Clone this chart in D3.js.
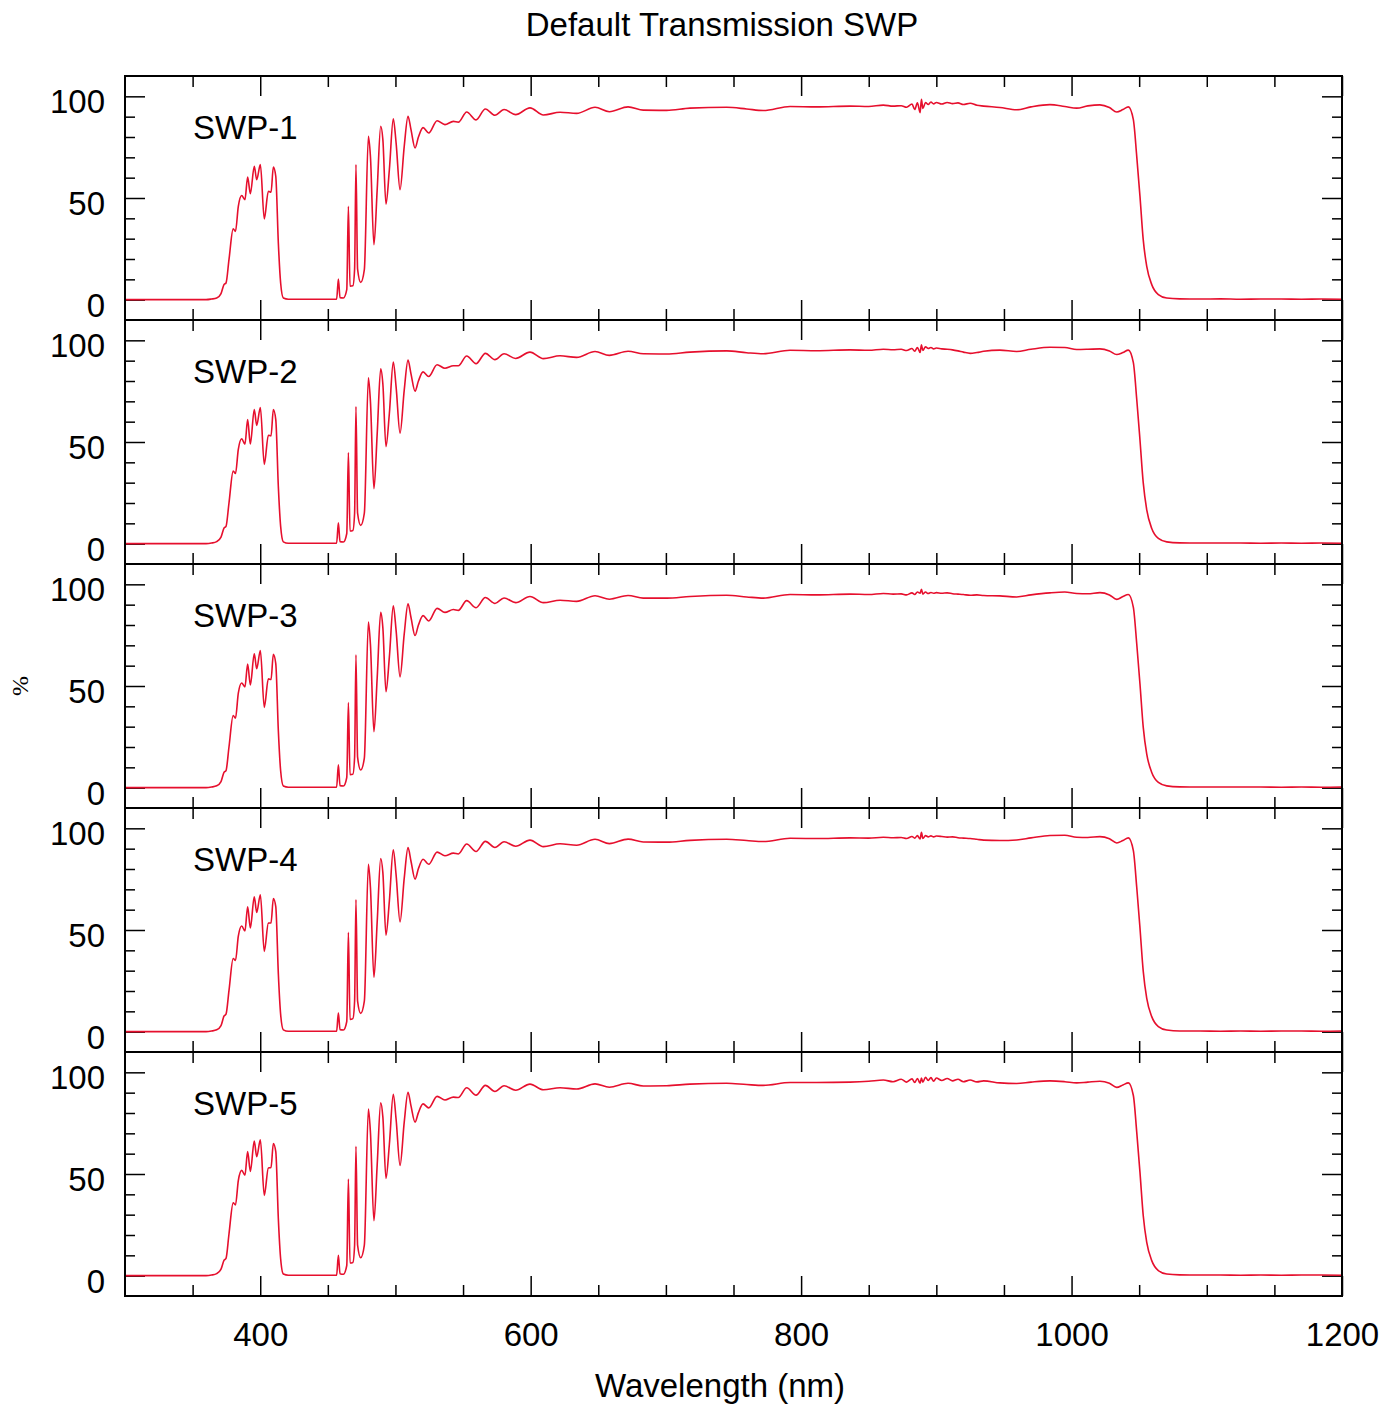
<!DOCTYPE html>
<html>
<head>
<meta charset="utf-8">
<script src="https://cdn.jsdelivr.net/npm/d3@7"></script>
<style>
  body { margin: 0; background: #fff; }
  text { font-family: "Liberation Sans", Arial, Helvetica, sans-serif; fill: #000; }
</style>
</head>
<body>
<div id="chart"></div>
<script>
// Data
var wavelength = [
  300, 360, 364, 367.8, 371, 373.2, 374.7, 376.9, 380, 381.7,
  383.8, 386.3, 388.7, 390.7, 392.7, 395.6, 397.4, 400.1, 403, 406,
  408, 409.7, 411.5, 413.4, 415.1, 417.1, 420.8, 456.5, 457.8, 459,
  461.5, 464, 465.2, 466.4, 468.5, 469.8, 470.8, 472, 474.3, 477,
  480, 481.5, 484.1, 486.5, 489.1, 490.7, 493, 495.5, 498.4, 500.5,
  503.4, 506.5, 509.3, 511.5, 514.5, 517, 520.4, 524.6, 530.8, 536.6,
  542.8, 546.5, 552.7, 559.6, 566.5, 573.6, 580.3, 588.9, 599.5, 609.4,
  621.7, 634, 647.6, 658.2, 672, 683.3, 700.6, 717.8, 745, 759.7,
  772, 791.8, 811.5, 836.2, 850, 860.8, 868, 874, 878, 882,
  884, 886, 888, 889, 890, 892, 894, 896, 898, 900,
  904, 908, 912, 916, 920, 925, 930, 935, 947, 959.4,
  970, 984, 995, 1003.8, 1012, 1021, 1028, 1033.4, 1038, 1042,
  1045.7, 1048.2, 1050.6, 1053, 1055.6, 1059.3, 1064.2, 1070.4, 1080, 1095,
  1110, 1125, 1140, 1155, 1170, 1185, 1200
];

var swp1 = [
  0, 0, 0.3, 0.8, 3, 7.4, 8.2, 19.7, 34.8, 33.6,
  45.9, 51.2, 49.2, 60.3, 52.1, 65.6, 59, 66.4, 39.7, 53.3,
  52.8, 65.2, 60.7, 27.9, 8.2, 0.8, 0.2, 0.2, 10.2, 1,
  0.8, 4.9, 45.9, 6.6, 6.8, 15, 66.4, 15, 8.5, 14.8,
  80.3, 70.5, 27, 54.1, 85.3, 78.7, 47, 63.9, 88.9, 77,
  54.1, 75.4, 90.2, 83.6, 74.6, 80, 84.6, 82, 88, 86.1,
  87.7, 87.3, 92.3, 88.4, 93.8, 90.7, 93.5, 91, 94.3, 90.8,
  92.2, 91.6, 94.6, 92.4, 94.8, 93.2, 93.1, 94.2, 94.6, 93.8,
  93, 95, 94.8, 95.2, 95, 95.7, 95.2, 95.4, 94.6, 96.2,
  93.5, 96.8, 92, 98.5, 94, 97, 96, 97.2, 96.3, 97,
  96.2, 97, 96.4, 96.8, 96, 96.6, 95.6, 95.2, 94.5, 93.4,
  94.8, 95.9, 95, 94.2, 95.3, 95.8, 94.5, 92.3, 93.5, 94.8,
  88.5, 70.5, 50.8, 29.5, 16.4, 7.4, 2.5, 0.8, 0.4, 0.3,
  0.4, 0.2, 0.3, 0.3, 0.2, 0.3, 0.2
];

var swp2 = [
  0, 0, 0.3, 1, 3.2, 7.6, 8.5, 20, 35.7, 34.5,
  46.4, 51.6, 48.9, 61, 49, 66, 58.2, 66.9, 39, 53.3,
  53, 66, 61, 28, 8.5, 0.9, 0.2, 0.2, 10.3, 1,
  0.8, 5, 44.8, 6.2, 6.5, 15, 67.4, 15, 9, 15,
  81.6, 70, 27, 54, 86, 78.5, 47.7, 64, 89.3, 77,
  54.3, 75.5, 90.3, 83.5, 75, 80, 84.5, 82.2, 88, 86.3,
  87.5, 87.5, 92.3, 88.5, 93.6, 90.5, 93.4, 91.1, 94.2, 91,
  92.4, 91.6, 94.5, 92.6, 94.6, 93.4, 93.3, 94.2, 94.8, 93.9,
  93.4, 95.1, 94.9, 95.3, 95.1, 95.6, 95.4, 95.6, 95, 96,
  94.6, 96.5, 94, 97.8, 95, 96.8, 96, 96.5, 95.8, 96.2,
  95.8, 95.6, 95.3, 94.8, 94.2, 93.6, 94, 94.6, 95.2, 94.5,
  95.6, 96.6, 96.5, 95.5, 95.6, 95.8, 94.8, 93, 94, 95.2,
  89, 71, 51, 30, 16.6, 7.5, 2.6, 0.9, 0.4, 0.3,
  0.3, 0.3, 0.2, 0.3, 0.2, 0.3, 0.2
];

var swp3 = [
  0, 0, 0.3, 0.9, 3, 7.5, 8.4, 20, 35.5, 34.2,
  46.5, 51.5, 49.5, 60.8, 50.5, 65.8, 58.5, 67.4, 39.5, 53.5,
  53.2, 65.6, 61, 28, 8.3, 0.8, 0.2, 0.2, 11.2, 1,
  0.8, 5, 41.8, 6.4, 6.6, 15, 65.4, 15, 8.7, 14.5,
  81.5, 70.5, 27.5, 54, 86.2, 78.6, 47.2, 64.2, 89.4, 77.2,
  54.5, 75.6, 90.4, 83.7, 74.8, 80, 84.6, 82, 88.2, 86.2,
  87.6, 87.2, 92, 88.5, 93.5, 90.6, 93.3, 91, 94, 91,
  92.2, 91.6, 94.4, 92.7, 94.5, 93.2, 93.2, 94, 94.6, 93.8,
  93.2, 95, 94.8, 95.2, 95, 95.5, 95.2, 95.3, 94.8, 95.8,
  95, 96.2, 95.6, 97.6, 95.2, 96.2, 95.5, 96, 95.6, 95.9,
  95.6, 95.8, 95.4, 95.2, 95, 94.6, 94.8, 94.5, 94.3, 93.8,
  94.8, 95.8, 96.2, 95.5, 95.4, 95.9, 94.8, 92.6, 94, 95,
  88.7, 70.8, 51, 29.8, 16.5, 7.5, 2.6, 0.9, 0.4, 0.3,
  0.3, 0.3, 0.3, 0.2, 0.3, 0.2, 0.3
];

var swp4 = [
  0, 0, 0.3, 0.9, 3, 7.6, 8.6, 20.2, 36, 35,
  47, 52, 49.5, 61.4, 51, 66.3, 58.6, 67.3, 39.5, 53.4,
  53.5, 65.5, 61.5, 28.5, 8.5, 0.9, 0.2, 0.2, 9.2, 1,
  0.8, 5, 48.9, 6, 6.4, 15, 65, 15, 9, 15,
  82.3, 71, 26.7, 54, 85.2, 78.2, 47.5, 64.2, 89.5, 77,
  54, 75.5, 90.5, 83.8, 75, 80.2, 84.8, 82.3, 88.3, 86.5,
  87.8, 87.4, 92.3, 88.6, 93.6, 90.6, 93.4, 91.2, 94.2, 91,
  92.4, 91.7, 94.6, 92.5, 94.7, 93.3, 93.2, 94.1, 94.6, 94,
  93.5, 95.1, 95, 95.3, 95.2, 95.6, 95.4, 95.5, 95, 96,
  95.2, 96.4, 94.8, 98, 95, 96.4, 95.8, 96.3, 95.8, 96.2,
  96, 95.7, 95.8, 95.4, 95.2, 95, 94.6, 94.2, 94, 94.3,
  95.3, 96.5, 96.6, 95.6, 95.5, 95.9, 94.9, 92.8, 94, 95.3,
  89, 71, 51, 29.8, 16.4, 7.4, 2.5, 0.8, 0.3, 0.3,
  0.2, 0.3, 0.2, 0.3, 0.3, 0.2, 0.3
];

var swp5 = [
  0, 0, 0.3, 1, 3.2, 7.5, 8.5, 20.5, 35.8, 34.8,
  46.8, 51.8, 49.4, 61, 51.3, 66.2, 58.5, 66.8, 39.5, 53,
  53.2, 65, 61, 28, 8.3, 0.8, 0.2, 0.2, 10, 1,
  0.7, 5, 47.5, 6.2, 6.5, 15, 63.6, 15, 8.8, 15,
  82, 70.5, 27, 54.5, 85, 78, 47.8, 64.5, 89.2, 76.8,
  54.2, 75.5, 90.2, 83.5, 75.5, 80.2, 84.5, 82.5, 88.2, 86.4,
  87.8, 87.6, 92.4, 88.8, 93.6, 90.6, 93.4, 91.2, 94.2, 91.4,
  92.4, 91.8, 94.3, 92.7, 94.6, 93.3, 93.4, 94.2, 94.6, 94,
  93.6, 95, 95, 95.2, 95.6, 96.2, 95.4, 96.6, 95.2, 96.8,
  95, 97, 94.6, 97.2, 95.2, 97.6, 96, 97.4, 95.6, 97.2,
  96, 97, 95.8, 96.6, 95.4, 96.2, 95.3, 95.8, 94.8, 94.5,
  95.2, 95.8, 95.4, 94.8, 95.2, 95.6, 94.6, 92.6, 93.8, 94.8,
  88.6, 70.6, 50.8, 29.6, 16.4, 7.4, 2.5, 0.8, 0.4, 0.3,
  0.3, 0.2, 0.3, 0.2, 0.3, 0.3, 0.2
];

var panelNames = ["SWP-1", "SWP-2", "SWP-3", "SWP-4", "SWP-5"];
var panelSeries = [swp1, swp2, swp3, swp4, swp5];
var xTickLabels = [400, 600, 800, 1000, 1200];
var yTickLabels = [0, 50, 100];

// Layout
var W = 1399, H = 1407;
var plotLeft = 125, plotRight = 1342, plotTop = 76, panelH = 244;
var lineColor = "#e60f2d";
var fontSize = "33px";

var svg = d3.select("#chart").append("svg")
    .attr("width", W)
    .attr("height", H);

var x = d3.scaleLinear().domain([300, 1200]).range([plotLeft, plotRight]);

var xMinor = d3.range(350, 1200, 50).filter(function (d) { return xTickLabels.indexOf(d) < 0; });
var yMinor = d3.range(0, 110, 10).filter(function (d) { return yTickLabels.indexOf(d) < 0; });

function styleAxis(g) {
    g.select(".domain").remove();
    g.selectAll(".tick line").attr("stroke", "#000").attr("stroke-width", 1.5);
    g.selectAll("text").style("font-size", fontSize).attr("fill", "#000");
}

panelSeries.forEach(function (vals, i) {
    var y0 = plotTop + i * panelH;
    var y = d3.scaleLinear().domain([-10, 110]).range([y0 + panelH, y0]);
    var g = svg.append("g");

    // left axis
    g.append("g").attr("transform", "translate(" + plotLeft + ",0)")
        .call(d3.axisLeft(y).tickValues(yMinor).tickSize(-10).tickFormat(""))
        .call(styleAxis);
    g.append("g").attr("transform", "translate(" + plotLeft + ",0)")
        .call(d3.axisLeft(y).tickValues(yTickLabels).tickSize(-20).tickPadding(20))
        .call(styleAxis)
        .selectAll("text").attr("dy", "0.5em");
    // right axis
    g.append("g").attr("transform", "translate(" + plotRight + ",0)")
        .call(d3.axisRight(y).tickValues(yMinor).tickSize(-10).tickFormat(""))
        .call(styleAxis);
    g.append("g").attr("transform", "translate(" + plotRight + ",0)")
        .call(d3.axisRight(y).tickValues(yTickLabels).tickSize(-20).tickFormat(""))
        .call(styleAxis);
    // top axis
    g.append("g").attr("transform", "translate(0," + y0 + ")")
        .call(d3.axisTop(x).tickValues(xMinor).tickSize(-11).tickFormat(""))
        .call(styleAxis);
    g.append("g").attr("transform", "translate(0," + y0 + ")")
        .call(d3.axisTop(x).tickValues(xTickLabels).tickSize(-20).tickFormat(""))
        .call(styleAxis);
    // bottom axis
    g.append("g").attr("transform", "translate(0," + (y0 + panelH) + ")")
        .call(d3.axisBottom(x).tickValues(xMinor).tickSize(-11).tickFormat(""))
        .call(styleAxis);
    g.append("g").attr("transform", "translate(0," + (y0 + panelH) + ")")
        .call(d3.axisBottom(x).tickValues(xTickLabels).tickSize(-20).tickPadding(27)
            .tickFormat(i == panelSeries.length - 1 ? d3.format("d") : ""))
        .call(styleAxis);

    // curve
    var line = d3.line()
        .x(function (d, j) { return x(wavelength[j]); })
        .y(function (d) { return y(d); })
        .curve(d3.curveMonotoneX);

    g.append("path")
        .datum(vals)
        .attr("d", line)
        .attr("fill", "none")
        .attr("stroke", lineColor)
        .attr("stroke-width", 1.6);

    // frame
    g.append("rect")
        .attr("x", plotLeft).attr("y", y0)
        .attr("width", plotRight - plotLeft).attr("height", panelH)
        .attr("fill", "none")
        .attr("stroke", "#000")
        .attr("stroke-width", 2);

    // panel name
    g.append("text")
        .attr("x", 193).attr("y", y0 + 63)
        .style("font-size", fontSize)
        .text(panelNames[i]);
});

// Titles
svg.append("text")
    .attr("x", 722).attr("y", 36)
    .attr("text-anchor", "middle")
    .style("font-size", fontSize)
    .text("Default Transmission SWP");

svg.append("text")
    .attr("x", 720).attr("y", 1397)
    .attr("text-anchor", "middle")
    .style("font-size", fontSize)
    .text("Wavelength (nm)");

svg.append("text")
    .attr("transform", "translate(28,686) rotate(-90)")
    .attr("text-anchor", "middle")
    .style("font-family", "'Liberation Serif', serif")
    .style("font-size", "24px")
    .text("%");
</script>
</body>
</html>
